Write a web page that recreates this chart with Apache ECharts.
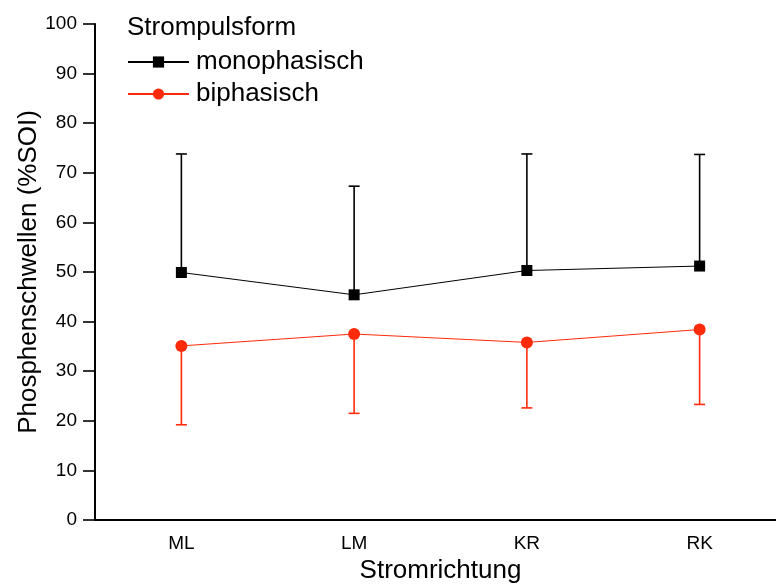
<!DOCTYPE html>
<html>
<head>
<meta charset="utf-8">
<script src="https://cdn.jsdelivr.net/npm/echarts@6/dist/echarts.min.js"></script>
<style>html,body{margin:0;padding:0;background:#fff}#c{width:776px;height:585px}</style>
</head>
<body>
<div id="c"></div>
<script>
const categories = ['ML', 'LM', 'KR', 'RK'];
const monoMean = [49.9, 45.4, 50.3, 51.2];
const monoUpper = [73.8, 67.3, 73.8, 73.7];
const biMean = [35.1, 37.5, 35.8, 38.4];
const biLower = [19.2, 21.5, 22.6, 23.3];
const yTicks = [0, 10, 20, 30, 40, 50, 60, 70, 80, 90, 100];

const RED = '#ff2a0a';
const FONT = 'Liberation Sans, Arial, sans-serif';

function errData(mean, ext) {
  return categories.map((c, i) => [i, mean[i], ext[i]]);
}
function errRender(color) {
  return function (params, api) {
    const x = api.value(0);
    const a = api.coord([x, api.value(1)]);
    const b = api.coord([x, api.value(2)]);
    const hw = 5.5;
    const st = { stroke: color, lineWidth: 1.6 };
    return {
      type: 'group',
      children: [
        { type: 'line', shape: { x1: a[0], y1: a[1], x2: b[0], y2: b[1] }, style: st },
        { type: 'line', shape: { x1: b[0] - hw, y1: b[1], x2: b[0] + hw, y2: b[1] }, style: st }
      ]
    };
  };
}

const chart = echarts.init(document.getElementById('c'), null, { renderer: 'canvas' });
chart.setOption({
  animation: false,
  backgroundColor: '#fff',
  textStyle: { fontFamily: FONT },
  title: {
    text: 'Strompulsform',
    left: 122, top: 10,
    textStyle: { fontFamily: FONT, fontSize: 26, fontWeight: 'normal', color: '#000' }
  },
  legend: {
    data: ['monophasisch', 'biphasisch'],
    orient: 'vertical',
    left: 122, top: 44,
    itemWidth: 61, itemHeight: 14, itemGap: 6,
    textStyle: { fontFamily: FONT, fontSize: 26, color: '#000', padding: [0, 0, 0, 2] }
  },
  grid: { left: 95, right: -10, top: 24, bottom: 65, containLabel: false, outerBoundsMode: 'none' },
  xAxis: {
    type: 'category',
    data: categories,
    boundaryGap: true,
    name: 'Stromrichtung',
    nameLocation: 'middle',
    nameGap: 38,
    nameMoveOverlap: false,
    nameTextStyle: { fontFamily: FONT, fontSize: 26, color: '#000' },
    axisLine: { lineStyle: { color: '#000', width: 2 } },
    axisTick: { show: false },
    axisLabel: { fontFamily: FONT, fontSize: 19, color: '#000', margin: 14 },
    splitLine: { show: false }
  },
  yAxis: {
    type: 'value',
    min: 0, max: 100, interval: 10,
    name: 'Phosphenschwellen (%SOI)',
    nameLocation: 'middle',
    nameGap: 53,
    nameMoveOverlap: false,
    nameTextStyle: { fontFamily: FONT, fontSize: 26, color: '#000' },
    axisLine: { show: true, lineStyle: { color: '#000', width: 2 } },
    axisTick: { show: true, length: 12, lineStyle: { color: '#000', width: 1.6 } },
    axisLabel: {
      fontFamily: FONT, fontSize: 19, color: '#000', margin: 18,
      formatter: v => (yTicks.indexOf(v) >= 0 ? String(v) : '')
    },
    splitLine: { show: false }
  },
  series: [
    {
      type: 'custom', name: 'monoErr', silent: true, z: 2,
      renderItem: errRender('#000'),
      data: errData(monoMean, monoUpper),
      encode: { x: 0, y: [1, 2] }
    },
    {
      type: 'custom', name: 'biErr', silent: true, z: 2,
      renderItem: errRender(RED),
      data: errData(biMean, biLower),
      encode: { x: 0, y: [1, 2] }
    },
    {
      name: 'monophasisch', type: 'line', z: 3,
      data: monoMean,
      symbol: 'rect', symbolSize: 11,
      itemStyle: { color: '#000' },
      lineStyle: { color: '#000', width: 1 }
    },
    {
      name: 'biphasisch', type: 'line', z: 3,
      data: biMean,
      symbol: 'circle', symbolSize: 12,
      itemStyle: { color: RED },
      lineStyle: { color: RED, width: 1 }
    }
  ]
});
</script>
</body>
</html>
